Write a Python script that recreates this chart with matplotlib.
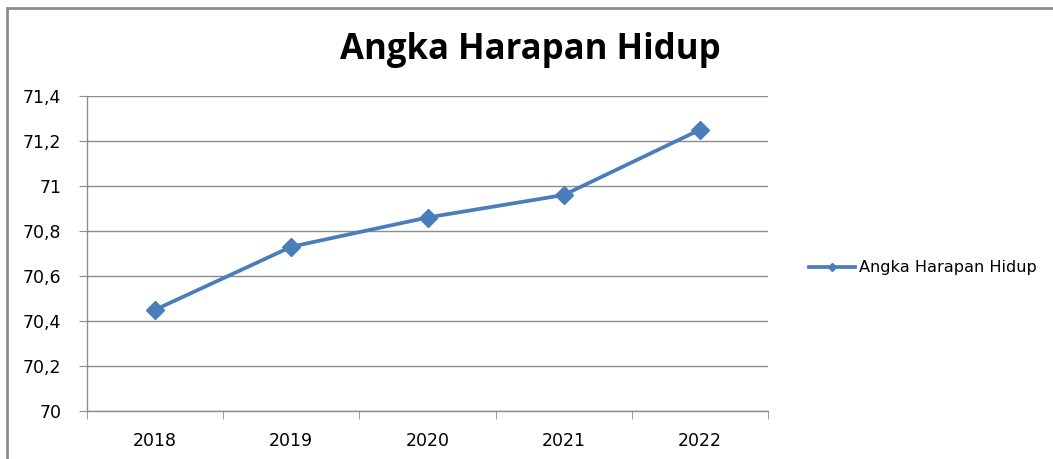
import matplotlib
matplotlib.use("Agg")
import matplotlib.pyplot as plt
from matplotlib.patches import Rectangle
import numpy as np

years = ["2018", "2019", "2020", "2021", "2022"]
values = [70.45, 70.73, 70.86, 70.96, 71.25]
series_name = "Angka Harapan Hidup"
y_ticks = [70.0, 70.2, 70.4, 70.6, 70.8, 71.0, 71.2, 71.4]
y_tick_labels = ["70", "70,2", "70,4", "70,6", "70,8", "71", "71,2", "71,4"]

W, H = 1053, 459
fig = plt.figure(figsize=(W / 100, H / 100), dpi=100)
fig.patch.set_facecolor("white")

# outer chart border (left and top visible)
fig.add_artist(Rectangle((7 / W, -0.1), 1.2, 1 - 8 / H + 0.1, transform=fig.transFigure,
                         fill=False, edgecolor="#8c8c8c", linewidth=2))

ax = fig.add_axes([87 / W, (H - 411) / H, (768 - 87) / W, (411 - 96) / H])
x = np.arange(len(years))
line, = ax.plot(x, values, color="#4a7ebb", linewidth=2.7, marker="D", markersize=9,
                markerfacecolor="#4a7ebb", markeredgecolor="#4a7ebb", label=series_name)

tick_font = {"family": "DejaVu Sans", "size": 12.5}
ax.set_xlim(-0.5, len(years) - 0.5)
ax.set_ylim(y_ticks[0], y_ticks[-1])
ax.set_yticks(y_ticks)
ax.set_yticklabels(y_tick_labels, fontdict=tick_font)
ax.set_xticks(x)
ax.set_xticklabels(years, fontdict=tick_font)
ax.set_xticks(np.arange(-0.5, len(years)), minor=True)
ax.tick_params(axis="x", which="major", length=0, pad=15)
ax.tick_params(axis="x", which="minor", length=5.5, color="#8c8c8c", direction="out")
ax.tick_params(axis="y", length=5.5, color="#8c8c8c", pad=13)

ax.grid(axis="y", color="#8c8c8c", linewidth=1)
ax.set_axisbelow(True)
for s in ["top", "right"]:
    ax.spines[s].set_visible(False)
for s in ["left", "bottom"]:
    ax.spines[s].set_color("#8c8c8c")
    ax.spines[s].set_linewidth(1)

fig.text(530 / W, 1 - 59 / H, "Angka Harapan Hidup", ha="center", va="baseline",
         fontfamily="Open Sans", fontweight="bold", fontsize=25)

leg = fig.legend(handles=[line], labels=[series_name], loc="center left",
                 bbox_to_anchor=(795 / W, 1 - 268 / H), frameon=False,
                 prop={"family": "DejaVu Sans", "size": 11.6}, handlelength=2.8,
                 handletextpad=0.25, markerscale=0.5)

fig.savefig("out.png", dpi=100)
